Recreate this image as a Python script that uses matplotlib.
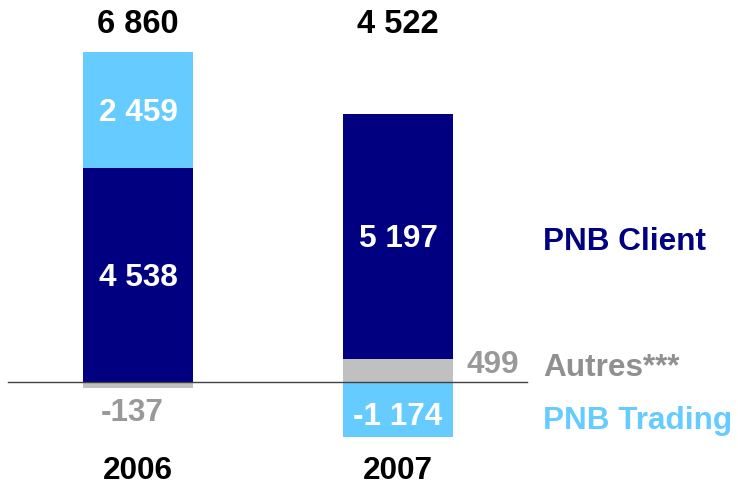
import matplotlib
matplotlib.use("Agg")
import matplotlib.pyplot as plt

years = ["2006", "2007"]
client = [4538, 5197]
trading = [2459, -1174]
autres = [-137, 499]
totals = ["6 860", "4 522"]
client_lbl = ["4 538", "5 197"]
trading_lbl = ["2 459", "-1 174"]
autres_lbl = ["-137", "499"]

NAVY = "#000080"
LBLUE = "#66CCFF"
GREY = "#C0C0C0"
TGREY = "#999999"

plt.rcParams['font.family'] = ['Liberation Sans', 'DejaVu Sans']
fig = plt.figure(figsize=(7.38, 4.87), dpi=100)
ax = fig.add_axes([0, 0, 1, 1])
ax.set_xlim(-0.531, 2.308)
ax.set_ylim(-2229, 8110)
ax.axis('off')

x = [0, 1]
w = 0.423
fs = 22.7
dy = -60  # small text offset

for i in range(2):
    pos_base = 0
    neg_base = 0
    a = autres[i]
    if a >= 0:
        ax.bar(x[i], a, w, bottom=pos_base, color=GREY, zorder=2)
        pos_base += a
    else:
        ax.bar(x[i], a, w, bottom=neg_base, color=GREY, zorder=2)
        neg_base += a
    ax.bar(x[i], client[i], w, bottom=pos_base, color=NAVY, zorder=2)
    ax.text(x[i], pos_base + client[i] / 2 + dy, client_lbl[i], ha='center', va='center',
            color='white', fontsize=fs, fontweight='bold', zorder=3)
    pos_base += client[i]
    t = trading[i]
    if t >= 0:
        ax.bar(x[i], t, w, bottom=pos_base, color=LBLUE, zorder=2)
        ax.text(x[i], pos_base + t / 2 + dy, trading_lbl[i], ha='center', va='center',
                color='white', fontsize=fs, fontweight='bold', zorder=3)
    else:
        ax.bar(x[i], t, w, bottom=0, color=LBLUE, zorder=2)
        ax.text(x[i], t / 2 - 100 + dy, trading_lbl[i], ha='center', va='center',
                color='white', fontsize=fs, fontweight='bold', zorder=3)
    ax.text(x[i], 7643 + dy, totals[i], ha='center', va='center', color='black',
            fontsize=fs + 0.8, fontweight='bold')
    ax.text(x[i], -1890, years[i], ha='center', va='center', color='black',
            fontsize=fs, fontweight='bold')

ax.text(-0.023, -594 + dy, autres_lbl[0], ha='center', va='center', color=TGREY,
        fontsize=fs, fontweight='bold')
ax.text(1.262, 425 + dy, autres_lbl[1], ha='left', va='center', color=TGREY,
        fontsize=fs, fontweight='bold')

ax.plot([-0.5, 1.496], [0, 0], color='#404040', lw=1, zorder=4)

ax.text(1.558, 3036 + dy, "PNB Client", ha='left', va='center', color=NAVY,
        fontsize=fs, fontweight='bold')
ax.text(1.558, 361 + dy, "Autres***", ha='left', va='center', color='#909090',
        fontsize=fs, fontweight='bold')
ax.text(1.558, -764 + dy, "PNB Trading", ha='left', va='center', color=LBLUE,
        fontsize=fs, fontweight='bold')

fig.savefig("out.png", dpi=100)
